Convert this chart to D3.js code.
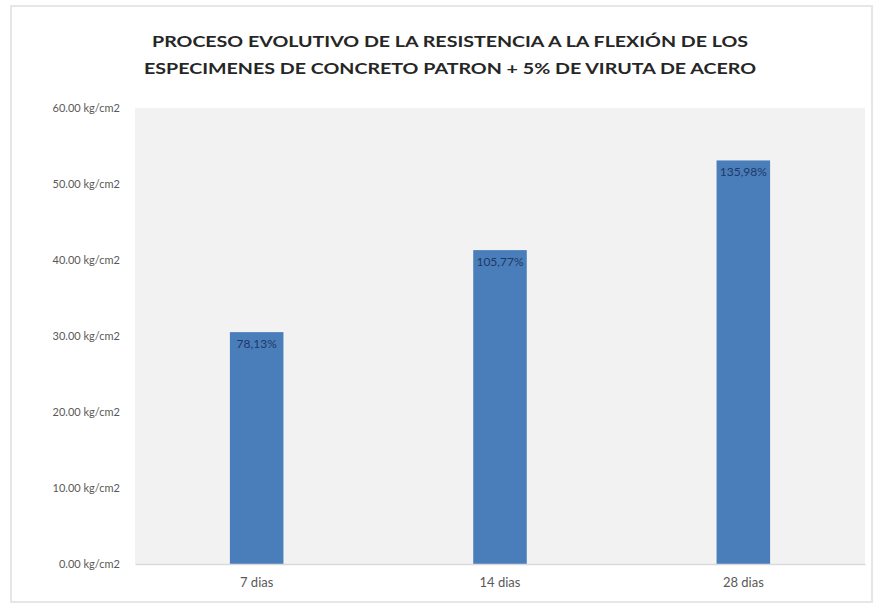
<!DOCTYPE html>
<html><head><meta charset="utf-8">
<script src="https://cdn.jsdelivr.net/npm/d3@7"></script>
<style>body{margin:0;background:#fff;} svg{display:block;}</style>
</head><body>
<svg id="c" width="875" height="604"></svg>
<script>
const categories = ["7 dias", "14 dias", "28 dias"];
const values = [30.51, 41.30, 53.10];
const labels = ["78,13%", "105,77%", "135,98%"];
const yTicks = [0, 10, 20, 30, 40, 50, 60];
const titleLines = ["PROCESO EVOLUTIVO DE LA RESISTENCIA A LA FLEXIÓN DE LOS", "ESPECIMENES DE CONCRETO PATRON + 5% DE VIRUTA DE ACERO"];

const svg = d3.select("#c");
const W = 875, H = 604;
const m = {left: 135, right: 10, top: 108, bottom: 40};
const pw = W - m.left - m.right, ph = H - m.top - m.bottom;

// outer border
svg.append("rect").attr("x", 11).attr("y", 6).attr("width", W - 14).attr("height", H - 8)
  .attr("fill", "#fff").attr("stroke", "#e6e6e6").attr("stroke-width", 2);

// title
svg.append("g").selectAll("text").data(titleLines).join("text")
  .attr("x", 450).attr("y", (d, i) => 47 + i * 27)
  .attr("text-anchor", "middle")
  .attr("font-family", "Lato, 'Open Sans', sans-serif").attr("font-weight", "bold")
  .attr("font-size", 16).attr("fill", "#262626")
  .attr("textLength", (d, i) => i === 0 ? 596 : 612).attr("lengthAdjust", "spacingAndGlyphs")
  .text(d => d);

const g = svg.append("g").attr("transform", `translate(${m.left},${m.top})`);
g.append("rect").attr("width", pw).attr("height", ph).attr("fill", "#f2f2f2");

const x = d3.scaleBand().domain(categories).range([0, pw]).paddingInner(0.78).paddingOuter(0.39);
const y = d3.scaleLinear().domain([0, 60]).range([ph, 0]);

// y axis
const ya = g.append("g").call(d3.axisLeft(y).tickValues(yTicks).tickSize(0).tickPadding(15)
  .tickFormat(d => d3.format(".2f")(d) + " kg/cm2"));
ya.select(".domain").remove();
ya.selectAll("text").attr("font-family", "Lato, 'Open Sans', sans-serif").attr("font-size", 11).attr("fill", "#595959");

// bars
g.selectAll("rect.bar").data(values).join("rect").attr("class", "bar")
  .attr("x", (d, i) => x(categories[i])).attr("width", x.bandwidth())
  .attr("y", d => y(d)).attr("height", d => ph - y(d)).attr("fill", "#4a7ebb");

// data labels
g.selectAll("text.lbl").data(values).join("text").attr("class", "lbl")
  .attr("x", (d, i) => x(categories[i]) + x.bandwidth() / 2)
  .attr("y", d => y(d) + 16).attr("text-anchor", "middle")
  .attr("font-family", "Lato, 'Open Sans', sans-serif").attr("font-size", 12).attr("fill", "#1f3864")
  .text((d, i) => labels[i]);

// x axis
const xa = g.append("g").attr("transform", `translate(0,${ph})`)
  .call(d3.axisBottom(x).tickSize(0).tickPadding(14));
xa.select(".domain").attr("stroke", "#d9d9d9").attr("stroke-width", 1.5);
xa.selectAll("text").attr("font-family", "Lato, 'Open Sans', sans-serif").attr("font-size", 13).attr("fill", "#595959");
</script>
</body></html>
